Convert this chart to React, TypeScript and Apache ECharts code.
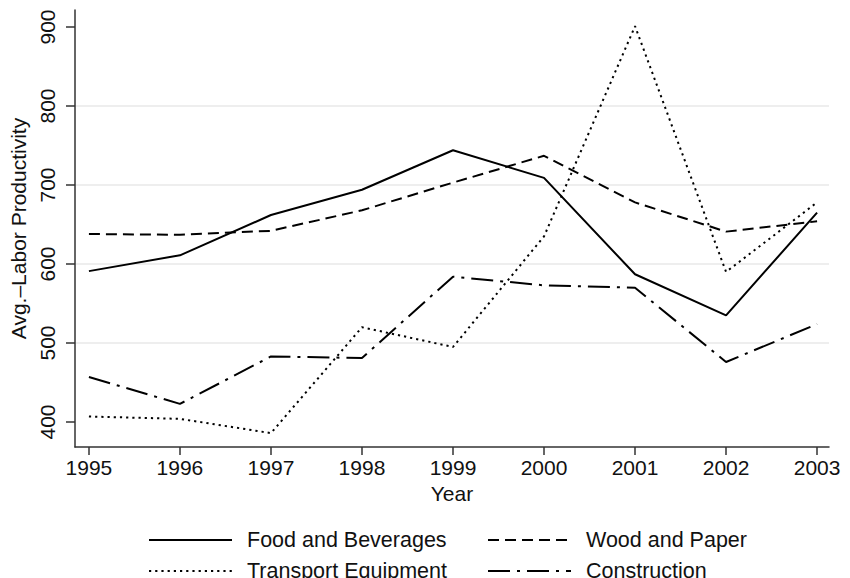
import React, { useEffect, useRef } from "react";
import * as echarts from "echarts";

const years = [1995, 1996, 1997, 1998, 1999, 2000, 2001, 2002, 2003];
const yTicks = [400, 500, 600, 700, 800, 900];
const food = [591, 611, 662, 694, 744, 709, 587, 535, 665];
const wood = [638, 637, 642, 668, 703, 737, 678, 641, 654];
const transport = [407, 404, 386, 520, 495, 635, 901, 590, 678];
const construction = [457, 423, 483, 481, 584, 573, 570, 476, 524];

const FONT = "'Liberation Sans', Arial, Helvetica, sans-serif";
const TXT = "#111";

export default function App() {
  const ref = useRef<HTMLDivElement>(null);
  useEffect(() => {
    if (!ref.current) return;
    const chart = echarts.init(ref.current, undefined, { renderer: "svg" });
    const pairs = (vals: number[]) => years.map((y, i) => [y, vals[i]]);
    const mk = (name: string, vals: number[], type: any) => ({
      name,
      type: "line",
      data: pairs(vals),
      symbol: "none",
      showSymbol: false,
      lineStyle: { color: "#000", width: 2, type, cap: "butt" },
      itemStyle: { color: "#000" },
      z: 3,
    });
    const legendBase = {
      padding: 0,
      itemWidth: 83,
      itemHeight: 14,
      itemStyle: { opacity: 0, borderWidth: 0 },
      textStyle: { fontFamily: FONT, fontSize: 21.5, color: TXT, padding: [0, 0, 0, 10] },
    };
    chart.setOption({
      animation: false,
      backgroundColor: "#fff",
      textStyle: { fontFamily: FONT },
      grid: { left: 69, right: 21, top: 10, bottom: 131 },
      xAxis: {
        type: "value",
        min: 1994.847,
        max: 2003.131,
        name: "Year",
        nameLocation: "middle",
        nameGap: 34,
        nameTextStyle: { fontFamily: FONT, fontSize: 21, color: TXT },
        axisLine: { show: true, lineStyle: { color: "#333", width: 1.5 } },
        axisTick: { show: true, length: 8, customValues: years, lineStyle: { color: "#333", width: 1.5 } },
        axisLabel: { customValues: years, margin: 10, fontFamily: FONT, fontSize: 21, color: TXT, formatter: (v: number) => String(v) },
        splitLine: { show: false },
      },
      yAxis: {
        type: "value",
        min: 368.4,
        max: 921.5,
        name: "Avg.–Labor Productivity",
        nameLocation: "middle",
        nameGap: 46,
        nameRotate: 90,
        nameTextStyle: { fontFamily: FONT, fontSize: 21, color: TXT },
        axisLine: { show: true, lineStyle: { color: "#333", width: 1.5 } },
        axisTick: { show: true, length: 9, customValues: yTicks, lineStyle: { color: "#333", width: 1.5 } },
        axisLabel: { customValues: yTicks, rotate: 90, margin: 17, fontFamily: FONT, fontSize: 21, color: TXT },
        splitLine: { show: true, showMinLine: false, showMaxLine: false, lineStyle: { color: "#e8e8e8", width: 1.5 } },
      },
      legend: [
        { ...legendBase, data: ["Food and Beverages"], left: 148, top: 529 },
        { ...legendBase, data: ["Wood and Paper"], left: 487, top: 529 },
        { ...legendBase, data: ["Transport Equipment"], left: 148, top: 560 },
        { ...legendBase, data: ["Construction"], left: 487, top: 560 },
      ],
      series: [
        mk("Food and Beverages", food, "solid"),
        mk("Wood and Paper", wood, [11, 6]),
        mk("Transport Equipment", transport, [2.2, 4]),
        mk("Construction", construction, [22, 7, 3, 7]),
      ],
    });
    return () => chart.dispose();
  }, []);
  return (
    <div
      ref={ref}
      style={{ position: "absolute", left: 0, top: 0, width: 850, height: 578 }}
    />
  );
}
